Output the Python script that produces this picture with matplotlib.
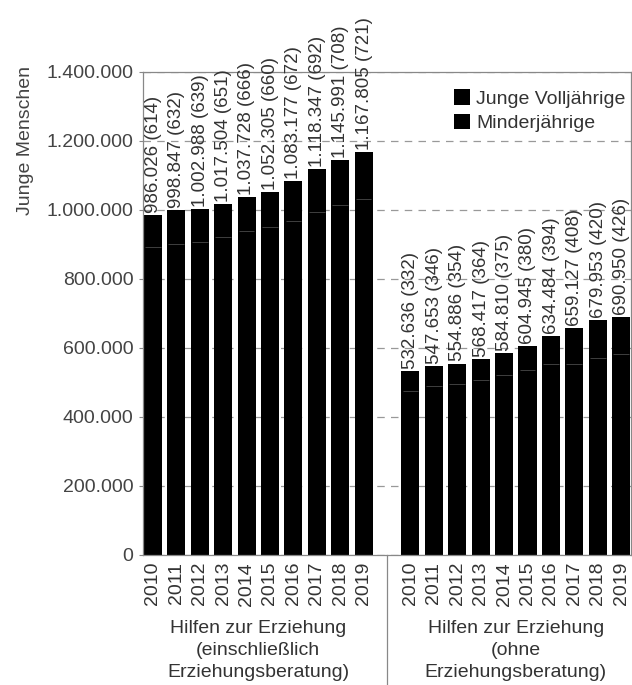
import matplotlib.pyplot as plt
import numpy as np
from matplotlib.ticker import FuncFormatter
from matplotlib.patches import Patch

plt.rcParams['font.family'] = ['Liberation Sans', 'DejaVu Sans']

years = ['2010', '2011', '2012', '2013', '2014', '2015', '2016', '2017', '2018', '2019']

# Hilfen zur Erziehung (einschliesslich Erziehungsberatung)
total_incl = [986026, 998847, 1002988, 1017504, 1037728, 1052305, 1083177, 1118347, 1145991, 1167805]
rate_incl = [614, 632, 639, 651, 666, 660, 672, 692, 708, 721]
# Hilfen zur Erziehung (ohne Erziehungsberatung)
total_ohne = [532636, 547653, 554886, 568417, 584810, 604945, 634484, 659127, 679953, 690950]
rate_ohne = [332, 346, 354, 364, 375, 380, 394, 408, 420, 426]

# junge Volljaehrige (geschaetzt, Segmentgrenze kaum sichtbar)
volljaehrige_incl = [93000, 97000, 96000, 95000, 100000, 102000, 115000, 125000, 132000, 136000]
volljaehrige_ohne = [58000, 57000, 59000, 62000, 64000, 70000, 81000, 105000, 110000, 108000]

group_labels = ['Hilfen zur Erziehung\n(einschließlich\nErziehungsberatung)',
                'Hilfen zur Erziehung\n(ohne\nErziehungsberatung)']

txt = '#333333'
grey = '#888888'

def fmt(v):
    return f'{v:,.0f}'.replace(',', '.')

fig = plt.figure(figsize=(6.32, 6.85), dpi=100)
ax = fig.add_axes([0.2263, 0.1898, 0.7721, 0.7051])

x1 = np.arange(10)
x2 = np.arange(11, 21)
w = 0.77

for xs, tot, voll, rate in [(x1, total_incl, volljaehrige_incl, rate_incl),
                            (x2, total_ohne, volljaehrige_ohne, rate_ohne)]:
    minder = np.array(tot) - np.array(voll)
    ax.bar(xs, minder, width=w, color='black', zorder=2)
    ax.bar(xs, voll, bottom=minder, width=w, color='black', zorder=2)
    # kaum sichtbare Grenze zwischen den Segmenten
    ax.hlines(minder, xs - w / 2 + 0.05, xs + w / 2 - 0.05, color='#4a4a4a',
              linewidth=0.6, zorder=2.5)
    for x, t, r in zip(xs, tot, rate):
        ax.text(x + 0.02, t + 6000, f'{fmt(t)} ({r})', rotation=90, ha='center',
                va='bottom', fontsize=13.5, color=txt, zorder=3, clip_on=False)

ax.set_xlim(-0.42, 20.42)
ax.set_ylim(0, 1400000)
ax.set_yticks(np.arange(0, 1400001, 200000))
ax.yaxis.set_major_formatter(FuncFormatter(lambda v, p: fmt(v)))
ax.tick_params(axis='y', labelsize=14, labelcolor='#444444', color=grey, length=3, pad=4)
ax.yaxis.grid(True, linestyle=(0, (6, 5)), color='#999999', linewidth=0.9, zorder=0)
ax.set_axisbelow(True)

ax.set_xticks(list(x1) + list(x2))
ax.set_xticklabels(years + years, rotation=90, fontsize=14, color=txt)
ax.tick_params(axis='x', length=0, pad=5)

for s in ax.spines.values():
    s.set_color(grey)
    s.set_linewidth(0.9)

fig.text(0.04, 0.795, 'Junge Menschen', rotation=90, ha='center', va='center',
         fontsize=14, color='#444444')

# Gruppenbeschriftung und Trennlinie
for xc, lab in zip([4.5, 15.5], group_labels):
    ax.text(xc, -0.134, lab, transform=ax.get_xaxis_transform(), ha='center',
            va='top', fontsize=14, color=txt, linespacing=1.38)
ax.plot([10, 10], [0, -0.3], transform=ax.get_xaxis_transform(), color=grey,
        linewidth=0.9, clip_on=False)

handles = [Patch(facecolor='black', label='Junge Volljährige'),
           Patch(facecolor='black', label='Minderjährige')]
ax.legend(handles=handles, loc='upper right', frameon=False, fontsize=14,
          handlelength=0.85, handleheight=0.85, handletextpad=0.3, labelspacing=0.3,
          labelcolor=txt, bbox_to_anchor=(1.025, 1.0))

fig.savefig('out.png', dpi=100)
